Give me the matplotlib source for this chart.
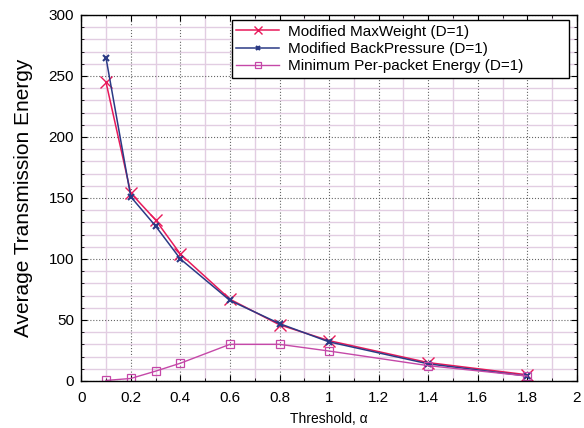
import matplotlib
matplotlib.use("Agg")
import matplotlib.pyplot as plt
from matplotlib.ticker import MultipleLocator

plt.rcParams["font.family"] = ["Liberation Sans", "DejaVu Sans"]

alpha = [0.1, 0.2, 0.3, 0.4, 0.6, 0.8, 1.0, 1.4, 1.8]
maxweight = [245, 154, 132, 104, 67, 46, 33, 15, 5]
backpressure = [265, 151, 127, 100, 66, 47, 32, 14, 4]
min_energy = [0.4, 2, 8, 14.5, 30, 30, 24.5, 12.5, 4]

labels = ["Modified MaxWeight (D=1)",
          "Modified BackPressure (D=1)",
          "Minimum Per-packet Energy (D=1)"]
xtick_labels = ["0", "0.2", "0.4", "0.6", "0.8", "1", "1.2", "1.4", "1.6", "1.8", "2"]

fig = plt.figure(figsize=(5.84, 4.28), dpi=100)
ax = fig.add_axes([0.139, 0.110, 0.849, 0.855])

ax.plot(alpha, maxweight, color="#e8195a", marker="x", markersize=8,
        markeredgewidth=1.0, linewidth=1.1, label=labels[0])
ax.plot(alpha, backpressure, color="#2b3a85", marker="x", markersize=4,
        markeredgewidth=1.5, linewidth=1.1, label=labels[1])
ax.plot(alpha, min_energy, color="#c548a8", marker="s", markersize=6,
        markerfacecolor="none", markeredgewidth=0.9, linewidth=1.0, label=labels[2])

ax.set_xlim(0, 2)
ax.set_ylim(0, 300)
ax.xaxis.set_major_locator(MultipleLocator(0.2))
ax.xaxis.set_minor_locator(MultipleLocator(0.1))
ax.yaxis.set_major_locator(MultipleLocator(50))
ax.yaxis.set_minor_locator(MultipleLocator(10))
ax.set_xticks([0.2 * i for i in range(len(xtick_labels))])
ax.set_xticklabels(xtick_labels)

ax.grid(which="minor", color="#e2cde2", linewidth=1.0, linestyle="-")
ax.grid(which="major", color="#666666", linewidth=0.8, linestyle=":")
ax.set_axisbelow(True)

ax.tick_params(which="both", direction="in", top=True, right=True, labelsize=11)
ax.tick_params(axis="x", pad=7)
ax.tick_params(axis="y", pad=5)
ax.tick_params(which="major", length=4)
ax.tick_params(which="minor", length=2)
for s in ax.spines.values():
    s.set_linewidth(1.0)

ax.set_xlabel("Threshold, α", fontsize=10, labelpad=5)
ax.set_ylabel("Average Transmission Energy", fontsize=15, labelpad=11)

# wide legend box with text left-aligned, as in the original
leg = ax.legend(loc="upper left", fontsize=11, fancybox=False, framealpha=1,
                edgecolor="black", bbox_to_anchor=(0.304, 0.0, 0.68, 0.986),
                mode="expand", borderaxespad=0, handlelength=2.8,
                handletextpad=0.6, labelspacing=0.22, borderpad=0.3,
                markerscale=0.65)
leg.get_frame().set_linewidth(1.0)

fig.savefig("out.png", dpi=100)
